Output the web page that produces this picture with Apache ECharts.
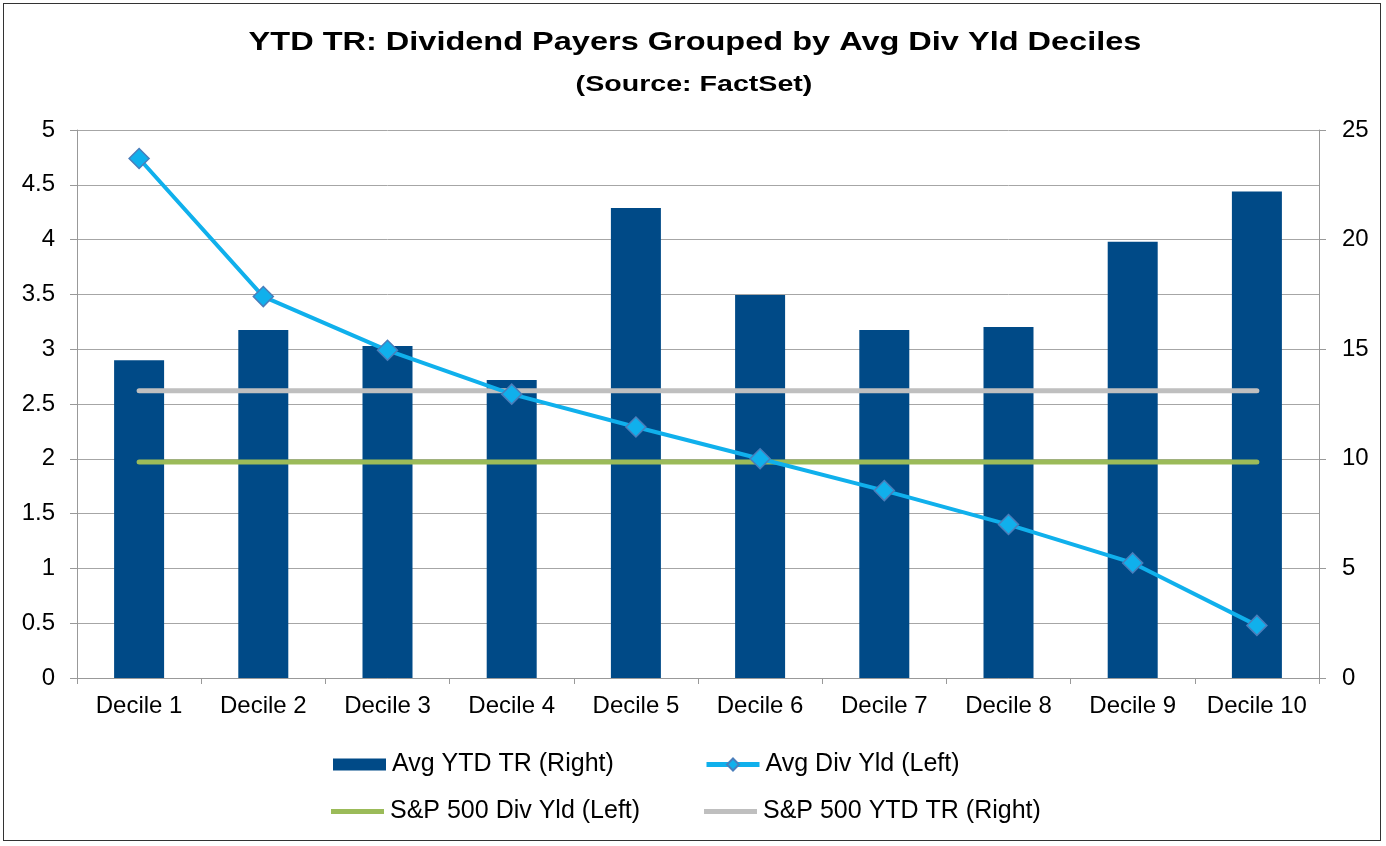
<!DOCTYPE html>
<html>
<head>
<meta charset="utf-8">
<script src="https://cdn.jsdelivr.net/npm/echarts@6/dist/echarts.min.js"></script>
<style>
  html, body { margin: 0; padding: 0; background: #fff; }
  #frame { position: absolute; left: 3px; top: 3px; width: 1378px; height: 838px; border: 1px solid #333; box-sizing: border-box; }
  #container { position: absolute; left: 0; top: 0; width: 1386px; height: 846px; }
</style>
</head>
<body>
<div id="frame"></div>
<div id="container"></div>
<script>
var deciles = ['Decile 1', 'Decile 2', 'Decile 3', 'Decile 4', 'Decile 5',
               'Decile 6', 'Decile 7', 'Decile 8', 'Decile 9', 'Decile 10'];
// right axis (%)
var avgYtdTr = [14.5, 15.88, 15.15, 13.6, 21.44, 17.47, 15.88, 16.01, 19.9, 22.19];
// left axis (%)
var avgDivYld = [4.74, 3.48, 2.99, 2.59, 2.29, 2.0, 1.71, 1.40, 1.05, 0.48];
var spDivYld = 1.97;   // left
var spYtdTr = 13.1;    // right

var fontFam = '"Liberation Sans", Arial, sans-serif';

function flat(v) {
    var arr = [];
    for (var i = 0; i < deciles.length; i++) arr.push(v);
    return arr;
}

// one legend box per item so each sits where the reference has it
function legendAt(name, left, top, icon, h) {
    var item = { name: name };
    if (icon) item.icon = icon;
    return {
        data: [item],
        left: left,
        top: top,
        padding: 0,
        itemWidth: 53,
        itemHeight: h,
        itemGap: 0,
        lineStyle: { width: 5 },
        textStyle: { fontFamily: fontFam, fontSize: 25, color: '#000', padding: [0, 0, 0, 1] },
        selectedMode: false
    };
}

var myChart = echarts.init(document.getElementById('container'));

var option = {
    animation: false,
    backgroundColor: 'transparent',
    graphic: [
        {
            type: 'text', x: 695, y: 43, scaleX: 1.3,
            style: {
                text: 'YTD TR: Dividend Payers Grouped by Avg Div Yld Deciles',
                font: 'bold 25px ' + fontFam, fill: '#000',
                textAlign: 'center', textVerticalAlign: 'middle'
            }
        },
        {
            type: 'text', x: 694, y: 85, scaleX: 1.3,
            style: {
                text: '(Source: FactSet)',
                font: 'bold 22px ' + fontFam, fill: '#000',
                textAlign: 'center', textVerticalAlign: 'middle'
            }
        }
    ],
    legend: [
        legendAt('Avg YTD TR (Right)', 333, 752, 'rect', 12),
        legendAt('Avg Div Yld (Left)', 704, 752, null, 15),
        legendAt('S&P 500 Div Yld (Left)', 331, 799, 'rect', 5),
        legendAt('S&P 500 YTD TR (Right)', 704, 799, 'rect', 5)
    ],
    grid: { left: 77, right: 67, top: 130, bottom: 168 },
    xAxis: {
        type: 'category',
        data: deciles,
        axisLine: { lineStyle: { color: '#999', width: 1 } },
        axisTick: { show: true, length: 6, lineStyle: { color: '#999' } },
        axisLabel: { interval: 0, fontFamily: fontFam, fontSize: 24, color: '#000', margin: 16 }
    },
    yAxis: [
        {
            type: 'value', min: 0, max: 5, interval: 0.5, position: 'left',
            axisLine: { show: true, lineStyle: { color: '#999' } },
            axisTick: { show: true, length: 7, lineStyle: { color: '#999' } },
            axisLabel: { fontFamily: fontFam, fontSize: 24, color: '#000', margin: 22 },
            splitLine: { show: true, lineStyle: { color: '#a6a6a6', width: 1 } }
        },
        {
            type: 'value', min: 0, max: 25, interval: 5, position: 'right',
            axisLine: { show: true, lineStyle: { color: '#999' } },
            axisTick: { show: true, length: 7, lineStyle: { color: '#999' } },
            axisLabel: { fontFamily: fontFam, fontSize: 24, color: '#000', margin: 23 },
            splitLine: { show: false }
        }
    ],
    series: [
        {
            name: 'Avg YTD TR (Right)',
            type: 'bar',
            yAxisIndex: 1,
            barWidth: 50,
            data: avgYtdTr,
            itemStyle: { color: '#004A87' },
            z: 1
        },
        {
            name: 'S&P 500 YTD TR (Right)',
            type: 'line',
            yAxisIndex: 1,
            data: flat(spYtdTr),
            symbol: 'none',
            lineStyle: { color: '#BFBFBF', width: 5, cap: 'round' },
            itemStyle: { color: '#BFBFBF' },
            z: 2
        },
        {
            name: 'S&P 500 Div Yld (Left)',
            type: 'line',
            yAxisIndex: 0,
            data: flat(spDivYld),
            symbol: 'none',
            lineStyle: { color: '#9BBB59', width: 5, cap: 'round' },
            itemStyle: { color: '#9BBB59' },
            z: 3
        },
        {
            name: 'Avg Div Yld (Left)',
            type: 'line',
            yAxisIndex: 0,
            data: avgDivYld,
            symbol: 'diamond',
            symbolSize: 20,
            lineStyle: { color: '#10B0EC', width: 4 },
            itemStyle: { color: '#10B0EC', borderColor: '#4A7EBB', borderWidth: 1.5 },
            z: 4
        }
    ]
};

myChart.setOption(option);
</script>
</body>
</html>
